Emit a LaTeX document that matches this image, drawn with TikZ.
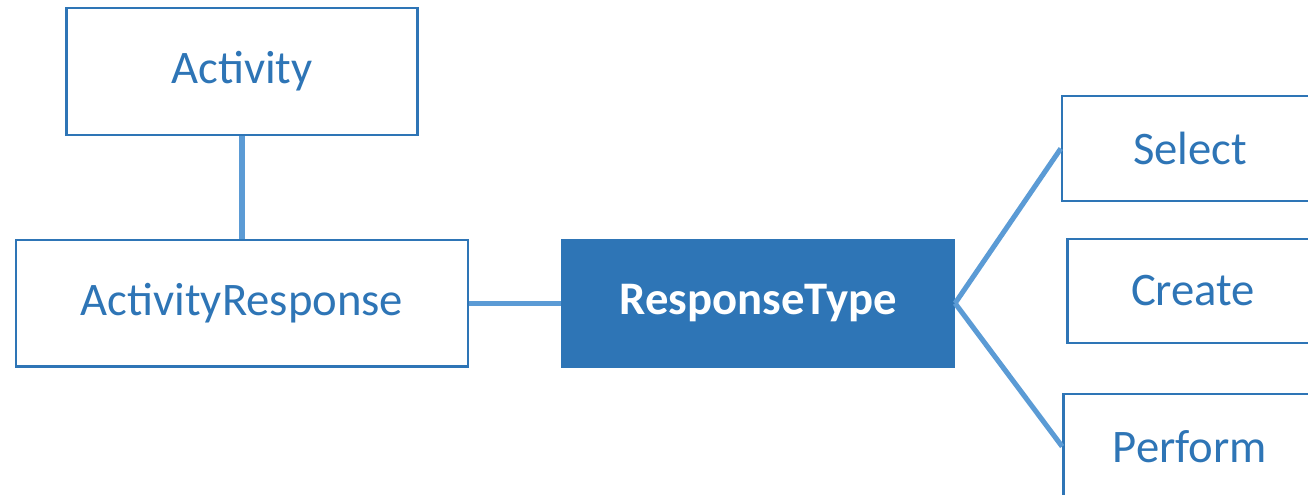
\documentclass[tikz,border=0pt]{standalone}
\usepackage{fontspec}
\setmainfont{Carlito}
\usetikzlibrary{positioning}
\definecolor{boxblue}{HTML}{2E75B6}
\definecolor{linkblue}{HTML}{5B9BD5}

\begin{document}
\begin{tikzpicture}[x=0.75pt, y=-0.75pt,
entitynode/.style={rectangle, draw=boxblue, line width=1.8pt, fill=white, text=boxblue, font=\fontsize{35}{42}\selectfont, inner sep=0pt},
typenode/.style={rectangle, fill=boxblue, text=white, font=\fontsize{35}{42}\selectfont\bfseries, inner sep=0pt},
link/.style={draw=linkblue, line width=3.8pt}]
\useasboundingbox (0,0) rectangle (1308,494);
\clip (0,0) rectangle (1308,494);

\node[entitynode, minimum width=263pt, minimum height=95pt] (act) at (242,71.5) {Activity};
\node[entitynode, minimum width=339pt, minimum height=95pt] (resp) [below=77pt of act] {ActivityResponse};
\node[typenode, minimum width=295pt, minimum height=97pt] (rtype) [right=69pt of resp] {ResponseType};

\node[entitynode, minimum width=192pt, minimum height=79pt] (sel) at (1190,148.5) {Select};
\node[entitynode, minimum width=188pt, minimum height=78pt] (cre) at (1193,291) {Create};
\node[entitynode, minimum width=190pt, minimum height=79pt] (perf) at (1190,446.5) {Perform};

\draw[link] (act.south) -- (resp.north);
\draw[link] (resp.east) -- (rtype.west);
\draw[link] (rtype.east) -- (sel.west);
\draw[link] (rtype.east) -- (perf.west);
\end{tikzpicture}
\end{document}
